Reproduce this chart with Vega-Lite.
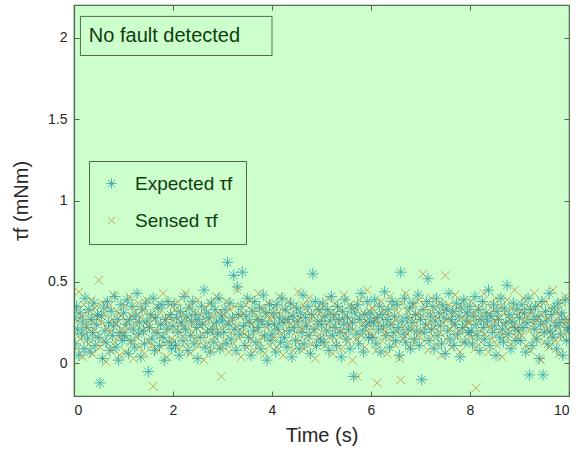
{
"$schema": "https://vega.github.io/schema/vega-lite/v6.json",
"width": 495,
"height": 391,
"autosize": {"type": "none"},
"padding": {"left": 74, "top": 5, "right": 10, "bottom": 57},
"background": "white",
"config": {
  "view": {"fill": "#ccffcc", "stroke": "#4f6a4f", "strokeWidth": 1.2},
  "font": "Liberation Sans",
  "axis": {"labelFont": "Liberation Sans", "titleFont": "Liberation Sans", "labelFontSize": 14, "labelColor": "#262626", "titleFontSize": 20, "titleFontWeight": "normal", "titleColor": "#262626", "domainColor": "#4f6a4f", "domainWidth": 1.2, "tickColor": "#4f6a4f", "grid": false}
},
"data": {"values": [
{"t":0,"e":0.28,"s":0.20},{"t":0.025,"e":0.12,"s":0.33},{"t":0.05,"e":0.35,"s":0.09},{"t":0.075,"e":0.21,"s":0.26},{"t":0.1,"e":0.05,"s":0.44},{"t":0.125,"e":0.31,"s":0.15},{"t":0.15,"e":0.18,"s":0.29},{"t":0.175,"e":0.26,"s":0.04},{"t":0.2,"e":0.09,"s":0.36},{"t":0.225,"e":0.40,"s":0.18},
{"t":0.25,"e":0.22,"s":0.23},{"t":0.275,"e":0.15,"s":0.31},{"t":0.3,"e":0.33,"s":0.12},{"t":0.325,"e":0.07,"s":0.27},{"t":0.35,"e":0.27,"s":0.39},{"t":0.375,"e":0.19,"s":0.06},{"t":0.4,"e":0.37,"s":0.21},{"t":0.425,"e":0.11,"s":0.34},{"t":0.45,"e":0.24,"s":0.16},{"t":0.475,"e":0.30,"s":0.28},
{"t":0.5,"e":0.16,"s":0.51},{"t":0.525,"e":-0.12,"s":0.10},{"t":0.55,"e":0.29,"s":0.25},{"t":0.575,"e":0.03,"s":0.37},{"t":0.6,"e":0.34,"s":0.14},{"t":0.625,"e":0.20,"s":0.30},{"t":0.65,"e":0.13,"s":0.01},{"t":0.675,"e":0.38,"s":0.22},{"t":0.7,"e":0.25,"s":0.35},{"t":0.725,"e":0.08,"s":0.19},
{"t":0.75,"e":0.32,"s":0.08},{"t":0.775,"e":0.17,"s":0.27},{"t":0.8,"e":0.23,"s":0.42},{"t":0.825,"e":0.41,"s":0.13},{"t":0.85,"e":0.10,"s":0.24},{"t":0.875,"e":0.27,"s":0.32},{"t":0.9,"e":0.02,"s":0.17},{"t":0.925,"e":0.19,"s":0.05},{"t":0.95,"e":0.36,"s":0.29},{"t":0.975,"e":0.14,"s":0.21},
{"t":1,"e":0.31,"s":0.18},{"t":1.025,"e":0.17,"s":0.35},{"t":1.05,"e":0.24,"s":0.07},{"t":1.075,"e":0.39,"s":0.26},{"t":1.1,"e":0.06,"s":0.21},{"t":1.125,"e":0.27,"s":0.41},{"t":1.15,"e":0.14,"s":0.13},{"t":1.175,"e":0.35,"s":0.29},{"t":1.2,"e":0.21,"s":0.03},{"t":1.225,"e":0.10,"s":0.32},
{"t":1.25,"e":0.29,"s":0.24},{"t":1.275,"e":0.43,"s":0.16},{"t":1.3,"e":0.18,"s":0.37},{"t":1.325,"e":0.25,"s":0.10},{"t":1.35,"e":0.04,"s":0.28},{"t":1.375,"e":0.33,"s":0.20},{"t":1.4,"e":0.20,"s":0.33},{"t":1.425,"e":0.12,"s":0.06},{"t":1.45,"e":0.37,"s":0.25},{"t":1.475,"e":0.26,"s":0.39},
{"t":1.5,"e":-0.05,"s":0.14},{"t":1.525,"e":0.22,"s":0.22},{"t":1.55,"e":0.30,"s":0.30},{"t":1.575,"e":0.15,"s":0.11},{"t":1.6,"e":0.40,"s":-0.14},{"t":1.625,"e":0.08,"s":0.27},{"t":1.65,"e":0.28,"s":0.19},{"t":1.675,"e":0.19,"s":0.35},{"t":1.7,"e":0.34,"s":0.08},{"t":1.725,"e":0.11,"s":0.23},
{"t":1.75,"e":0.24,"s":0.31},{"t":1.775,"e":0.36,"s":0.17},{"t":1.8,"e":0.16,"s":0.43},{"t":1.825,"e":0.02,"s":0.12},{"t":1.85,"e":0.27,"s":0.26},{"t":1.875,"e":0.21,"s":0.04},{"t":1.9,"e":0.38,"s":0.29},{"t":1.925,"e":0.13,"s":0.21},{"t":1.95,"e":0.30,"s":0.36},{"t":1.975,"e":0.09,"s":0.15},
{"t":2,"e":0.23,"s":0.27},{"t":2.025,"e":0.36,"s":0.14},{"t":2.05,"e":0.11,"s":0.33},{"t":2.075,"e":0.28,"s":0.21},{"t":2.1,"e":0.19,"s":0.38},{"t":2.125,"e":0.05,"s":0.09},{"t":2.15,"e":0.32,"s":0.25},{"t":2.175,"e":0.25,"s":0.30},{"t":2.2,"e":0.14,"s":0.17},{"t":2.225,"e":0.41,"s":0.22},
{"t":2.25,"e":0.21,"s":0.43},{"t":2.275,"e":0.29,"s":0.12},{"t":2.3,"e":0.08,"s":0.28},{"t":2.325,"e":0.34,"s":0.35},{"t":2.35,"e":0.17,"s":0.06},{"t":2.375,"e":0.26,"s":0.24},{"t":2.4,"e":0.38,"s":0.19},{"t":2.425,"e":0.12,"s":0.32},{"t":2.45,"e":0.30,"s":0.15},{"t":2.475,"e":0.22,"s":0.27},
{"t":2.5,"e":0.03,"s":0.39},{"t":2.525,"e":0.27,"s":0.11},{"t":2.55,"e":0.16,"s":0.23},{"t":2.575,"e":0.35,"s":0.30},{"t":2.6,"e":0.24,"s":0.18},{"t":2.625,"e":0.45,"s":0.02},{"t":2.65,"e":0.10,"s":0.34},{"t":2.675,"e":0.31,"s":0.26},{"t":2.7,"e":0.19,"s":0.13},{"t":2.725,"e":0.28,"s":0.21},
{"t":2.75,"e":0.07,"s":0.37},{"t":2.775,"e":0.37,"s":0.08},{"t":2.8,"e":0.21,"s":0.29},{"t":2.825,"e":0.13,"s":0.24},{"t":2.85,"e":0.33,"s":0.16},{"t":2.875,"e":0.25,"s":0.41},{"t":2.9,"e":0.18,"s":0.20},{"t":2.925,"e":0.40,"s":0.31},{"t":2.95,"e":0.09,"s":0.10},{"t":2.975,"e":0.29,"s":-0.08},
{"t":3,"e":0.26,"s":0.21},{"t":3.025,"e":0.19,"s":0.30},{"t":3.05,"e":0.33,"s":0.14},{"t":3.075,"e":0.12,"s":0.38},{"t":3.1,"e":0.62,"s":0.25},{"t":3.125,"e":0.24,"s":0.07},{"t":3.15,"e":0.37,"s":0.33},{"t":3.175,"e":0.15,"s":0.19},{"t":3.2,"e":0.28,"s":0.27},{"t":3.225,"e":0.54,"s":0.12},
{"t":3.25,"e":0.21,"s":0.35},{"t":3.275,"e":0.08,"s":0.23},{"t":3.3,"e":0.47,"s":0.45},{"t":3.325,"e":0.30,"s":0.16},{"t":3.35,"e":0.18,"s":0.29},{"t":3.375,"e":0.35,"s":0.04},{"t":3.4,"e":0.56,"s":0.22},{"t":3.425,"e":0.23,"s":0.31},{"t":3.45,"e":0.11,"s":0.18},{"t":3.475,"e":0.29,"s":0.36},
{"t":3.5,"e":0.40,"s":0.10},{"t":3.525,"e":0.16,"s":0.26},{"t":3.55,"e":0.25,"s":0.39},{"t":3.575,"e":0.05,"s":0.15},{"t":3.6,"e":0.32,"s":0.24},{"t":3.625,"e":0.20,"s":0.32},{"t":3.65,"e":0.38,"s":0.08},{"t":3.675,"e":0.13,"s":0.20},{"t":3.7,"e":0.27,"s":0.28},{"t":3.725,"e":0.22,"s":0.43},
{"t":3.75,"e":0.34,"s":0.13},{"t":3.775,"e":0.09,"s":0.25},{"t":3.8,"e":0.26,"s":0.34},{"t":3.825,"e":0.42,"s":0.17},{"t":3.85,"e":0.17,"s":0.06},{"t":3.875,"e":0.31,"s":0.30},{"t":3.9,"e":0.02,"s":0.22},{"t":3.925,"e":0.24,"s":0.37},{"t":3.95,"e":0.36,"s":0.11},{"t":3.975,"e":0.14,"s":0.27},
{"t":4,"e":0.18,"s":0.29},{"t":4.025,"e":0.31,"s":0.16},{"t":4.05,"e":0.24,"s":0.35},{"t":4.075,"e":0.07,"s":0.22},{"t":4.1,"e":0.36,"s":0.10},{"t":4.125,"e":0.21,"s":0.31},{"t":4.15,"e":0.28,"s":0.41},{"t":4.175,"e":0.13,"s":0.18},{"t":4.2,"e":0.40,"s":0.26},{"t":4.225,"e":0.25,"s":0.05},
{"t":4.25,"e":0.16,"s":0.33},{"t":4.275,"e":0.33,"s":0.20},{"t":4.3,"e":0.10,"s":0.27},{"t":4.325,"e":0.27,"s":0.38},{"t":4.35,"e":0.20,"s":0.13},{"t":4.375,"e":0.37,"s":0.24},{"t":4.4,"e":0.04,"s":0.30},{"t":4.425,"e":0.29,"s":0.08},{"t":4.45,"e":0.22,"s":0.35},{"t":4.475,"e":0.14,"s":0.19},
{"t":4.5,"e":0.34,"s":0.25},{"t":4.525,"e":0.26,"s":0.44},{"t":4.55,"e":0.09,"s":0.14},{"t":4.575,"e":0.31,"s":0.28},{"t":4.6,"e":0.19,"s":0.21},{"t":4.625,"e":0.42,"s":0.36},{"t":4.65,"e":0.12,"s":0.09},{"t":4.675,"e":0.28,"s":0.23},{"t":4.7,"e":0.23,"s":0.32},{"t":4.725,"e":0.35,"s":0.17},
{"t":4.75,"e":0.17,"s":0.40},{"t":4.775,"e":0.06,"s":0.26},{"t":4.8,"e":0.30,"s":0.12},{"t":4.825,"e":0.55,"s":0.29},{"t":4.85,"e":0.21,"s":0.20},{"t":4.875,"e":0.38,"s":0.03},{"t":4.9,"e":0.11,"s":0.34},{"t":4.925,"e":0.26,"s":0.24},{"t":4.95,"e":0.33,"s":0.15},{"t":4.975,"e":0.15,"s":0.31},
{"t":5,"e":0.24,"s":0.19},{"t":5.025,"e":0.37,"s":0.28},{"t":5.05,"e":0.13,"s":0.35},{"t":5.075,"e":0.29,"s":0.11},{"t":5.1,"e":0.20,"s":0.24},{"t":5.125,"e":0.33,"s":0.40},{"t":5.15,"e":0.08,"s":0.16},{"t":5.175,"e":0.26,"s":0.31},{"t":5.2,"e":0.41,"s":0.22},{"t":5.225,"e":0.17,"s":0.06},
{"t":5.25,"e":0.30,"s":0.29},{"t":5.275,"e":0.22,"s":0.37},{"t":5.3,"e":0.11,"s":0.14},{"t":5.325,"e":0.35,"s":0.25},{"t":5.35,"e":0.27,"s":0.33},{"t":5.375,"e":0.19,"s":0.20},{"t":5.4,"e":0.04,"s":0.09},{"t":5.425,"e":0.32,"s":0.27},{"t":5.45,"e":0.24,"s":0.42},{"t":5.475,"e":0.39,"s":0.18},
{"t":5.5,"e":0.15,"s":0.30},{"t":5.525,"e":0.28,"s":0.13},{"t":5.55,"e":0.21,"s":0.23},{"t":5.575,"e":0.09,"s":0.36},{"t":5.6,"e":0.34,"s":0.26},{"t":5.625,"e":0.25,"s":0.02},{"t":5.65,"e":-0.08,"s":0.21},{"t":5.675,"e":0.31,"s":0.34},{"t":5.7,"e":0.18,"s":0.15},{"t":5.725,"e":0.36,"s":-0.08},
{"t":5.75,"e":0.12,"s":0.28},{"t":5.775,"e":0.27,"s":0.39},{"t":5.8,"e":0.43,"s":0.17},{"t":5.825,"e":0.20,"s":0.24},{"t":5.85,"e":0.07,"s":0.31},{"t":5.875,"e":0.30,"s":0.10},{"t":5.9,"e":0.23,"s":0.26},{"t":5.925,"e":0.38,"s":0.45},{"t":5.95,"e":0.16,"s":0.19},{"t":5.975,"e":0.26,"s":0.32},
{"t":6,"e":0.31,"s":0.22},{"t":6.025,"e":0.16,"s":0.34},{"t":6.05,"e":0.25,"s":0.17},{"t":6.075,"e":0.39,"s":0.27},{"t":6.1,"e":0.12,"s":0.08},{"t":6.125,"e":0.28,"s":-0.12},{"t":6.15,"e":0.21,"s":0.30},{"t":6.175,"e":0.35,"s":0.25},{"t":6.2,"e":0.07,"s":0.38},{"t":6.225,"e":0.30,"s":0.14},
{"t":6.25,"e":0.23,"s":0.21},{"t":6.275,"e":0.44,"s":0.33},{"t":6.3,"e":0.17,"s":0.19},{"t":6.325,"e":0.27,"s":0.06},{"t":6.35,"e":0.33,"s":0.29},{"t":6.375,"e":0.10,"s":0.41},{"t":6.4,"e":0.24,"s":0.16},{"t":6.425,"e":0.38,"s":0.24},{"t":6.45,"e":0.19,"s":0.35},{"t":6.475,"e":0.29,"s":0.12},
{"t":6.5,"e":0.14,"s":0.27},{"t":6.525,"e":0.36,"s":0.20},{"t":6.55,"e":0.22,"s":0.31},{"t":6.575,"e":0.05,"s":0.03},{"t":6.6,"e":0.56,"s":-0.10},{"t":6.625,"e":0.26,"s":0.37},{"t":6.65,"e":0.18,"s":0.15},{"t":6.675,"e":0.40,"s":0.23},{"t":6.7,"e":0.13,"s":0.43},{"t":6.725,"e":0.28,"s":0.18},
{"t":6.75,"e":0.21,"s":0.32},{"t":6.775,"e":0.34,"s":0.10},{"t":6.8,"e":0.09,"s":0.28},{"t":6.825,"e":0.25,"s":0.21},{"t":6.85,"e":0.37,"s":0.36},{"t":6.875,"e":0.15,"s":0.13},{"t":6.9,"e":0.30,"s":0.25},{"t":6.925,"e":0.20,"s":0.30},{"t":6.95,"e":0.42,"s":0.17},{"t":6.975,"e":0.11,"s":0.39},
{"t":7,"e":0.27,"s":0.20},{"t":7.025,"e":-0.10,"s":0.29},{"t":7.05,"e":0.33,"s":0.55},{"t":7.075,"e":0.19,"s":0.14},{"t":7.1,"e":0.24,"s":0.35},{"t":7.125,"e":0.38,"s":0.23},{"t":7.15,"e":0.52,"s":0.08},{"t":7.175,"e":0.14,"s":0.31},{"t":7.2,"e":0.29,"s":0.26},{"t":7.225,"e":0.21,"s":0.40},
{"t":7.25,"e":0.35,"s":0.17},{"t":7.275,"e":0.09,"s":0.22},{"t":7.3,"e":0.26,"s":0.33},{"t":7.325,"e":0.40,"s":0.12},{"t":7.35,"e":0.17,"s":0.28},{"t":7.375,"e":0.31,"s":0.37},{"t":7.4,"e":0.23,"s":0.19},{"t":7.425,"e":0.12,"s":0.05},{"t":7.45,"e":0.36,"s":0.25},{"t":7.475,"e":0.28,"s":0.32},
{"t":7.5,"e":0.06,"s":0.54},{"t":7.525,"e":0.33,"s":0.15},{"t":7.55,"e":0.20,"s":0.27},{"t":7.575,"e":0.43,"s":0.36},{"t":7.6,"e":0.15,"s":0.21},{"t":7.625,"e":0.27,"s":0.10},{"t":7.65,"e":0.32,"s":0.30},{"t":7.675,"e":0.11,"s":0.24},{"t":7.7,"e":0.24,"s":0.42},{"t":7.725,"e":0.37,"s":0.16},
{"t":7.75,"e":0.18,"s":0.34},{"t":7.775,"e":0.29,"s":0.20},{"t":7.8,"e":0.04,"s":0.07},{"t":7.825,"e":0.34,"s":0.28},{"t":7.85,"e":0.22,"s":0.38},{"t":7.875,"e":0.39,"s":0.13},{"t":7.9,"e":0.13,"s":0.23},{"t":7.925,"e":0.26,"s":0.31},{"t":7.95,"e":0.31,"s":0.18},{"t":7.975,"e":0.19,"s":0.26},
{"t":8,"e":0.35,"s":0.25},{"t":8.025,"e":0.20,"s":0.38},{"t":8.05,"e":0.12,"s":0.16},{"t":8.075,"e":0.29,"s":0.31},{"t":8.1,"e":0.41,"s":0.09},{"t":8.125,"e":0.24,"s":-0.15},{"t":8.15,"e":0.17,"s":0.27},{"t":8.175,"e":0.33,"s":0.34},{"t":8.2,"e":0.08,"s":0.20},{"t":8.225,"e":0.27,"s":0.13},
{"t":8.25,"e":0.38,"s":0.29},{"t":8.275,"e":0.22,"s":0.43},{"t":8.3,"e":0.15,"s":0.18},{"t":8.325,"e":0.31,"s":0.24},{"t":8.35,"e":0.26,"s":0.36},{"t":8.375,"e":0.45,"s":0.07},{"t":8.4,"e":0.11,"s":0.30},{"t":8.425,"e":0.29,"s":0.22},{"t":8.45,"e":0.19,"s":0.15},{"t":8.475,"e":0.36,"s":0.33},
{"t":8.5,"e":0.23,"s":0.26},{"t":8.525,"e":0.05,"s":0.40},{"t":8.55,"e":0.32,"s":0.11},{"t":8.575,"e":0.27,"s":0.28},{"t":8.6,"e":0.16,"s":0.19},{"t":8.625,"e":0.40,"s":0.35},{"t":8.65,"e":0.21,"s":0.04},{"t":8.675,"e":0.13,"s":0.24},{"t":8.7,"e":0.34,"s":0.31},{"t":8.725,"e":0.25,"s":0.17},
{"t":8.75,"e":0.48,"s":0.39},{"t":8.775,"e":0.18,"s":0.21},{"t":8.8,"e":0.30,"s":0.27},{"t":8.825,"e":0.09,"s":0.12},{"t":8.85,"e":0.26,"s":0.34},{"t":8.875,"e":0.37,"s":0.23},{"t":8.9,"e":0.22,"s":0.45},{"t":8.925,"e":0.14,"s":0.16},{"t":8.95,"e":0.33,"s":0.29},{"t":8.975,"e":0.20,"s":0.20},
{"t":9,"e":0.28,"s":0.23},{"t":9.025,"e":0.14,"s":0.32},{"t":9.05,"e":0.36,"s":0.17},{"t":9.075,"e":0.22,"s":0.40},{"t":9.1,"e":0.31,"s":0.26},{"t":9.125,"e":0.07,"s":0.11},{"t":9.15,"e":0.25,"s":0.29},{"t":9.175,"e":0.40,"s":0.35},{"t":9.2,"e":-0.07,"s":0.20},{"t":9.225,"e":0.33,"s":0.08},
{"t":9.25,"e":0.11,"s":0.31},{"t":9.275,"e":0.27,"s":0.24},{"t":9.3,"e":0.21,"s":0.43},{"t":9.325,"e":0.35,"s":0.15},{"t":9.35,"e":0.15,"s":0.27},{"t":9.375,"e":0.29,"s":0.36},{"t":9.4,"e":0.03,"s":0.19},{"t":9.425,"e":0.24,"s":0.02},{"t":9.45,"e":0.38,"s":0.30},{"t":9.475,"e":-0.07,"s":0.25},
{"t":9.5,"e":0.19,"s":0.13},{"t":9.525,"e":0.32,"s":0.38},{"t":9.55,"e":0.26,"s":0.21},{"t":9.575,"e":0.12,"s":0.28},{"t":9.6,"e":0.43,"s":0.10},{"t":9.625,"e":0.20,"s":0.34},{"t":9.65,"e":0.30,"s":0.18},{"t":9.675,"e":0.16,"s":0.45},{"t":9.7,"e":0.34,"s":0.26},{"t":9.725,"e":0.23,"s":0.14},
{"t":9.75,"e":0.09,"s":0.32},{"t":9.775,"e":0.37,"s":0.22},{"t":9.8,"e":0.25,"s":0.06},{"t":9.825,"e":0.18,"s":0.29},{"t":9.85,"e":0.31,"s":0.37},{"t":9.875,"e":0.05,"s":0.16},{"t":9.9,"e":0.27,"s":0.24},{"t":9.925,"e":0.39,"s":0.41},{"t":9.95,"e":0.14,"s":0.20},{"t":9.975,"e":0.22,"s":0.27},
{"t":10,"e":0.21,"s":0.26}
]},
"layer": [
  {
    "data": {"values": [{"label": "No fault detected"}]},
    "mark": {"type": "rect", "fill": "#ccffcc", "stroke": "#4f6a4f", "strokeWidth": 1},
    "encoding": {
      "x": {"datum": 0.13, "type": "quantitative", "scale": {"domain": [0, 10], "nice": false}, "axis": {"orient": "top", "values": [0,2,4,6,8,10], "labels": false, "title": null, "tickSize": -5, "domain": false}},
      "x2": {"datum": 4.0},
      "y": {"datum": 2.13, "type": "quantitative", "scale": {"domain": [-0.2, 2.2], "nice": false, "zero": false}, "axis": {"orient": "right", "values": [0,0.5,1,1.5,2], "labels": false, "title": null, "tickSize": -5, "domain": false}},
      "y2": {"datum": 1.89}
    }
  },
  {
    "data": {"values": [{"label": "No fault detected"}]},
    "mark": {"type": "text", "align": "left", "baseline": "middle", "fontSize": 20, "font": "Liberation Sans", "color": "#0f3d0f"},
    "encoding": {
      "text": {"field": "label"},
      "x": {"datum": 0.3, "type": "quantitative", "axis": null},
      "y": {"datum": 2.01, "type": "quantitative", "axis": null}
    }
  },
  {
    "transform": [{"fold": ["e", "s"], "as": ["series", "v"]}],
    "mark": {"type": "point", "filled": false, "strokeWidth": 1, "opacity": 0.65, "size": 130, "clip": true},
    "encoding": {
      "x": {"field": "t", "type": "quantitative", "axis": {"values": [0,2,4,6,8,10], "title": "Time (s)", "tickSize": -5, "labelPadding": 12, "titlePadding": 8}},
      "y": {"field": "v", "type": "quantitative", "axis": {"values": [0,0.5,1,1.5,2], "title": "τf (mNm)", "tickSize": -5, "labelPadding": 12, "titlePadding": 16, "format": "~r"}},
      "color": {"field": "series", "type": "nominal", "scale": {"domain": ["e", "s"], "range": ["#0a8aa0", "#bf7a1c"]},
        "legend": {"orient": "none", "legendX": 15, "legendY": 156, "title": null, "fillColor": "#ccffcc", "strokeColor": "#4f6a4f", "padding": 13, "labelFontSize": 19, "labelFont": "Liberation Sans", "labelColor": "#0f3d0f", "symbolSize": 100, "rowPadding": 17, "labelOffset": 14, "symbolStrokeWidth": 1, "labelExpr": "datum.label == 'e' ? 'Expected τf' : 'Sensed τf'"}},
      "shape": {"field": "series", "type": "nominal", "scale": {"domain": ["e", "s"], "range": ["M0,-1V1M-1,0H1M-0.7,-0.7L0.7,0.7M-0.7,0.7L0.7,-0.7", "M-0.75,-0.75L0.75,0.75M-0.75,0.75L0.75,-0.75"]}}
    }
  }
],
"resolve": {"axis": {"x": "independent", "y": "independent"}}
}
